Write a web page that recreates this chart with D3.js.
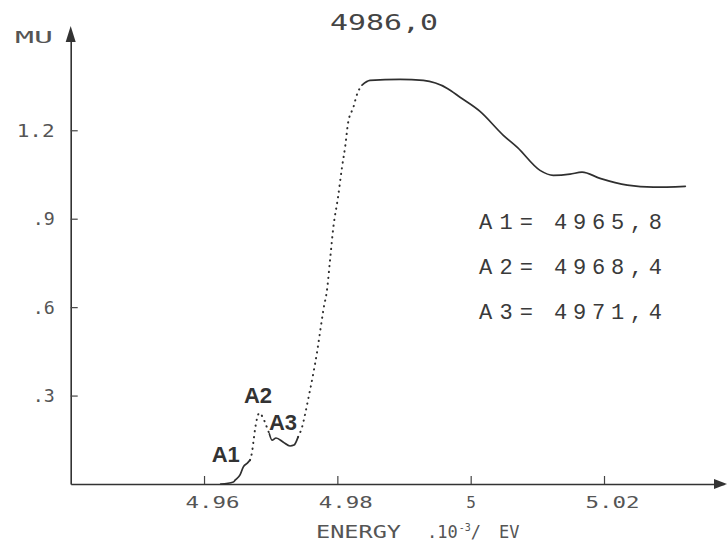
<!DOCTYPE html>
<html><head><meta charset="utf-8">
<script src="https://cdn.jsdelivr.net/npm/d3@7"></script>
<style>body{margin:0;background:#fff} svg{display:block}</style>
</head><body>
<svg id="chart" width="727" height="546"></svg>
<script>
// ---- data ----
const energy = [4.9625, 4.9644, 4.9647, 4.9654, 4.9659, 4.9665, 4.9669, 4.9672, 4.9674, 4.9677, 4.9680, 4.9683, 4.9688, 4.9693, 4.9698, 4.9702, 4.9708, 4.9719, 4.9729, 4.9735, 4.9741, 4.9747, 4.9752, 4.9756, 4.9764, 4.9770, 4.9774, 4.9779, 4.9785, 4.9789, 4.9794, 4.9801, 4.9807, 4.9812, 4.9816, 4.9824, 4.9830, 4.9837, 4.9849, 4.9894, 4.9929, 4.9965, 4.9984, 5.0014, 5.0049, 5.0070, 5.0104, 5.0124, 5.0149, 5.0167, 5.0194, 5.0235, 5.0274, 5.0322];
const mu = [0, 0.007, 0.014, 0.031, 0.058, 0.071, 0.081, 0.108, 0.142, 0.193, 0.227, 0.241, 0.227, 0.200, 0.170, 0.149, 0.156, 0.142, 0.129, 0.132, 0.159, 0.193, 0.241, 0.285, 0.376, 0.454, 0.515, 0.590, 0.668, 0.759, 0.871, 0.973, 1.075, 1.149, 1.224, 1.278, 1.325, 1.353, 1.369, 1.373, 1.369, 1.342, 1.312, 1.264, 1.183, 1.142, 1.064, 1.047, 1.051, 1.058, 1.037, 1.014, 1.007, 1.010];
const xTicks = [4.96, 4.98, 5.00, 5.02];
const xTickLabels = ["4.96", "4.98", "5", "5.02"];
const yTicks = [0.3, 0.6, 0.9, 1.2];
const yTickLabels = [".3", ".6", ".9", "1.2"];
const titleText = "4986,0";
const peakNames = ["A1", "A2", "A3"];
const peakValues = ["4965,8", "4968,4", "4971,4"];
const peakEnergy = [4.9658, 4.9684, 4.9714];
const yAxisTitle = "MU";
const xAxisTitle = ["ENERGY", ".10", "-3", "/", "EV"];

// ---- drawing ----
const svg = d3.select("#chart");
const ink = "#2f2f2f", grey = "#555";
const x = d3.scaleLinear().domain([4.94, 5.038]).range([70.7, 724]);
const y = d3.scaleLinear().domain([0, 1.53]).range([484, 33]);
const pts = energy.map((e, i) => ({e, m: mu[i]}));

// axes
const gx = svg.append("g").attr("transform", `translate(0,${y(0)})`)
  .call(d3.axisBottom(x).tickValues(xTicks).tickSizeInner(-8).tickSizeOuter(0).tickFormat((d, i) => xTickLabels[i]));
gx.select(".domain").attr("stroke", "#333").attr("stroke-width", 1.6);
gx.selectAll(".tick line").attr("stroke", "#444").attr("stroke-width", 1.2);
gx.selectAll(".tick text")
  .attr("font-family", "DejaVu Sans Mono").attr("font-size", 16).attr("fill", grey)
  .attr("y", 24).attr("dy", 0)
  .attr("dx", (d, i) => xTickLabels[i].length > 1 ? 8 : 0)
  .attr("textLength", (d, i) => xTickLabels[i].length > 1 ? 54 : null)
  .attr("lengthAdjust", "spacingAndGlyphs");

const gy = svg.append("g").attr("transform", `translate(${x(4.94)},0)`)
  .call(d3.axisLeft(y).tickValues(yTicks).tickSizeInner(-7).tickSizeOuter(0).tickPadding(16).tickFormat((d, i) => yTickLabels[i]));
gy.select(".domain").attr("stroke", "#333").attr("stroke-width", 1.6);
gy.selectAll(".tick line").attr("stroke", "#444").attr("stroke-width", 1.2);
gy.selectAll(".tick text")
  .attr("font-family", "DejaVu Sans Mono").attr("font-size", 17).attr("fill", grey)
  .attr("dy", "0.36em")
  .attr("textLength", (d, i) => yTickLabels[i].length > 2 ? 38 : 22)
  .attr("lengthAdjust", "spacingAndGlyphs");

// arrowheads
const ax0 = x(4.94), ay0 = y(0);
svg.append("path").attr("d", `M${ax0},${y.range()[1] - 7} L${ax0 - 5},${y.range()[1] + 9} L${ax0 + 5},${y.range()[1] + 9} Z`).attr("fill", "#333");
svg.append("path").attr("d", `M${x.range()[1] + 3},${ay0} L${x.range()[1] - 10},${ay0 - 5} L${x.range()[1] - 10},${ay0 + 5} Z`).attr("fill", "#333");

// axis titles
svg.append("text").attr("x", 15).attr("y", 43).text(yAxisTitle)
  .attr("font-family", "DejaVu Sans Mono").attr("font-size", 15).attr("fill", grey)
  .attr("textLength", 38).attr("lengthAdjust", "spacingAndGlyphs");
const xt = svg.append("g").attr("font-family", "DejaVu Sans Mono").attr("fill", grey);
xt.append("text").attr("x", 316).attr("y", 538).attr("font-size", 17).text(xAxisTitle[0])
  .attr("textLength", 85).attr("lengthAdjust", "spacingAndGlyphs");
const unit = xt.append("text").attr("x", 427).attr("y", 538).attr("font-size", 17);
unit.append("tspan").text(xAxisTitle[1]);
unit.append("tspan").attr("dy", -7).attr("dx", 1).attr("font-size", 10).text(xAxisTitle[2]);
unit.append("tspan").attr("dy", 7).text(xAxisTitle[3]);
unit.append("tspan").attr("dx", 18).text(xAxisTitle[4]);

// title
svg.append("text").attr("x", 330).attr("y", 30).text(titleText)
  .attr("font-family", "DejaVu Sans Mono").attr("font-size", 21).attr("fill", "#444")
  .attr("textLength", 108).attr("lengthAdjust", "spacingAndGlyphs");

// curve: solid where flat, dotted where the recorder points spread apart
const dottedRanges = [[4.9669, 4.9698], [4.9741, 4.9837]];
const bounds = [energy[0]].concat(...dottedRanges, [energy[energy.length - 1]]);
const line = d3.line().x(d => x(d.e)).y(d => y(d.m)).curve(d3.curveMonotoneX);
for (let k = 0; k < bounds.length - 1; k++) {
  const lo = bounds[k], hi = bounds[k + 1];
  const seg = pts.filter(p => p.e >= lo - 1e-9 && p.e <= hi + 1e-9);
  const dotted = k % 2 === 1;
  svg.append("path").datum(seg).attr("d", line).attr("fill", "none")
    .attr("stroke", ink)
    .attr("stroke-width", dotted ? 2 : 1.7)
    .attr("stroke-linecap", "round")
    .attr("stroke-dasharray", dotted ? "0.3 5.5" : null);
}

// peak labels near the curve
const peakLabelPos = [[-31, 462, "start"], [-2, 403, "middle"], [3, 430, "middle"]];
peakNames.forEach((n, i) => {
  const [dx, py, anc] = peakLabelPos[i];
  svg.append("text").attr("x", x(peakEnergy[i]) + dx)
    .attr("y", py).attr("text-anchor", anc).text(n)
    .attr("font-family", "Liberation Sans").attr("font-weight", "bold")
    .attr("font-size", 22).attr("fill", "#333");
});

// right-hand annotation
peakNames.forEach((n, i) => {
  const by = 229 + i * 45;
  svg.append("text").attr("x", 479).attr("y", by).text(n + "=")
    .attr("font-family", "Liberation Mono").attr("font-size", 22).attr("fill", "#3a3a3a")
    .attr("textLength", 54).attr("lengthAdjust", "spacing");
  svg.append("text").attr("x", 554).attr("y", by).text(peakValues[i])
    .attr("font-family", "Liberation Mono").attr("font-size", 22).attr("fill", "#3a3a3a")
    .attr("textLength", 108).attr("lengthAdjust", "spacing");
});
</script>
</body></html>
